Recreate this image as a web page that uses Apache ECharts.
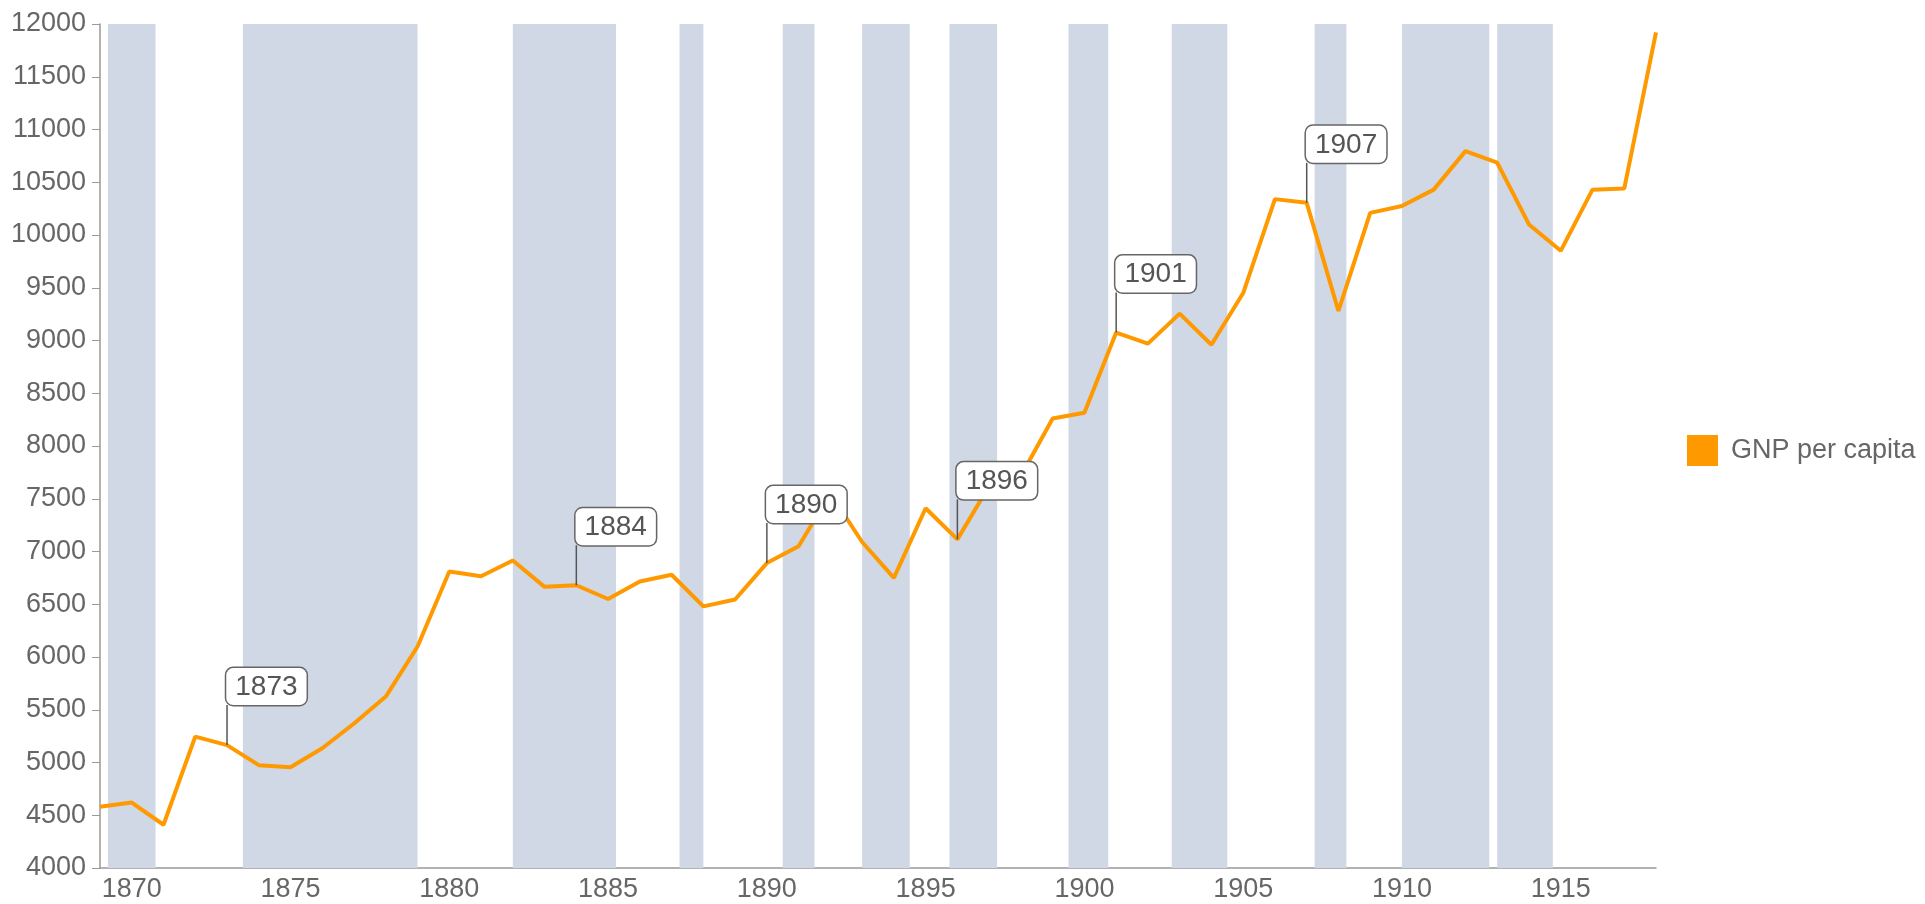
<!DOCTYPE html>
<html>
<head>
<meta charset="utf-8">
<title>GNP per capita</title>
<script src="https://cdn.jsdelivr.net/npm/echarts@6/dist/echarts.min.js"></script>
<style>
  html, body { margin: 0; padding: 0; background: #fff; }
  #chart { width: 1925px; height: 904px; }
</style>
</head>
<body>
<div id="chart"></div>
<script>
// years and GNP per capita values
var years = [];
for (var y = 1869; y <= 1918; y++) years.push(y);

var gnpPerCapita = [
  4580, 4620, 4410, 5245, 5165, 4975, 4955, 5135, 5370, 5625,
  6100, 6810, 6765, 6915, 6665, 6680, 6550, 6715, 6780, 6480,
  6545, 6890, 7050, 7550, 7090, 6750, 7410, 7115, 7620, 7715,
  8260, 8315, 9075, 8970, 9255, 8960, 9450, 10340, 10305, 9280,
  10210, 10275, 10430, 10795, 10685, 10100, 9850, 10430, 10440, 11920
];

// shaded periods (recessions), start / end as fractional years
var bandStart = [1869.25, 1873.5, 1882.0, 1887.25, 1890.5, 1893.0, 1895.75, 1899.5, 1902.75, 1907.25, 1910.0, 1913.0];
var bandEnd   = [1870.75, 1879.0, 1885.25, 1888.0, 1891.5, 1894.5, 1897.25, 1900.75, 1904.5, 1908.25, 1912.75, 1914.75];

// annotated years (callouts)
var calloutYears = [1873, 1884, 1890, 1896, 1901, 1907];

var xTickLabels = [1870, 1875, 1880, 1885, 1890, 1895, 1900, 1905, 1910, 1915];

var FONT = '"Liberation Sans", Arial, Helvetica, sans-serif';

var lineData = [];
for (var i = 0; i < years.length; i++) {
  lineData.push([years[i], gnpPerCapita[i]]);
}

var bands = [];
for (var j = 0; j < bandStart.length; j++) {
  bands.push([{ xAxis: bandStart[j] }, { xAxis: bandEnd[j] }]);
}

var callouts = calloutYears.map(function (yr) {
  return {
    name: String(yr),
    coord: [yr, gnpPerCapita[years.indexOf(yr)]]
  };
});

var chart = echarts.init(document.getElementById('chart'));

var option = {
  animation: false,
  backgroundColor: '#fff',
  grid: { left: 100, right: 269, top: 24, bottom: 36, containLabel: false },
  legend: {
    data: ['GNP per capita'],
    orient: 'vertical',
    left: 1682,
    top: 430,
    icon: 'rect',
    itemWidth: 31,
    itemHeight: 31,
    itemGap: 10,
    textStyle: { fontFamily: FONT, fontSize: 27, color: '#666', padding: [0, 0, 0, 8] },
    selectedMode: false
  },
  xAxis: {
    type: 'value',
    min: 1869,
    max: 1918,
    axisLine: { show: true, lineStyle: { color: '#999', width: 1.5 } },
    axisTick: { show: false },
    splitLine: { show: false },
    axisLabel: {
      customValues: xTickLabels,
      fontFamily: FONT,
      fontSize: 27,
      color: '#666',
      margin: 8,
      formatter: function (v) { return String(v); }
    }
  },
  yAxis: {
    type: 'value',
    min: 4000,
    max: 12000,
    interval: 500,
    axisLine: { show: true, lineStyle: { color: '#999', width: 1.5 } },
    axisTick: { show: true, length: 8, lineStyle: { color: '#999' } },
    splitLine: { show: false },
    axisLabel: {
      fontFamily: FONT,
      fontSize: 27,
      color: '#666',
      margin: 14,
      formatter: function (v) { return String(v); }
    }
  },
  series: [
    {
      name: 'bands',
      type: 'line',
      data: [],
      z: 1,
      silent: true,
      markArea: {
        silent: true,
        itemStyle: { color: '#d0d7e5', opacity: 1 },
        data: bands
      }
    },
    {
      name: 'GNP per capita',
      type: 'line',
      data: lineData,
      z: 3,
      symbol: 'none',
      itemStyle: { color: '#ff9900' },
      lineStyle: { color: '#ff9900', width: 4 },
      markPoint: {
        symbol: 'rect',
        symbolSize: [1.5, 40],
        symbolOffset: [0, -20],
        silent: true,
        itemStyle: { color: '#555' },
        label: {
          show: true,
          position: [0, 0],
          align: 'left',
          verticalAlign: 'bottom',
          formatter: '{b}',
          fontFamily: FONT,
          fontSize: 28,
          lineHeight: 30,
          color: '#555',
          backgroundColor: '#fff',
          borderColor: '#666',
          borderWidth: 1.5,
          borderRadius: 7,
          padding: [4, 9, 3, 9]
        },
        data: callouts
      }
    }
  ]
};

chart.setOption(option);
window.onresize = chart.resize;
</script>
</body>
</html>
